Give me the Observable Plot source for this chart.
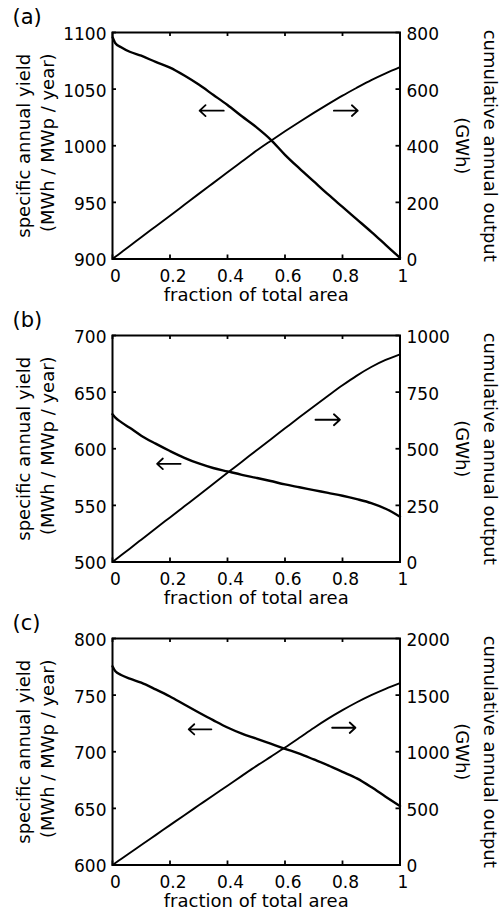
<!DOCTYPE html>
<html>
<head>
<meta charset="utf-8">
<script src="https://cdn.jsdelivr.net/npm/d3@7"></script>
<script src="https://cdn.jsdelivr.net/npm/@observablehq/plot@0.6"></script>
<style>
  html, body { margin: 0; padding: 0; background: #ffffff; }
  #chart { width: 503px; }
  #chart svg { display: block; }
</style>
</head>
<body>
<div id="chart"></div>
<script>
// ---- shared x positions (fraction of total area) ----
const fractionGrid = [0, 0.01, 0.03, 0.06, 0.1, 0.15, 0.2, 0.25, 0.3, 0.35, 0.4, 0.45, 0.5, 0.55, 0.6, 0.65, 0.7, 0.75, 0.8, 0.85, 0.9, 0.95, 1];
const xTicks = [0, 0.2, 0.4, 0.6, 0.8, 1];

// ---- panel (a) ----
const yieldA  = [1096, 1090.5, 1087, 1083, 1079.5, 1074, 1069, 1062, 1054, 1045, 1036, 1026, 1016.5, 1005.5, 992, 980, 968.5, 957, 946, 935, 924, 912.5, 901];
const outputA = [0, 7.7, 23, 46, 77, 115, 153, 191.5, 230, 268, 306, 344, 382, 417, 451, 484, 516, 547, 577, 605, 632, 656, 678];
const yTicksA = [900, 950, 1000, 1050, 1100];
const rTicksA = [0, 200, 400, 600, 800];
const arrowsA = [{x1: 0.387, x2: 0.303, y: 1031}, {x1: 0.77, x2: 0.853, y: 1031}];

// ---- panel (b) ----
const yieldB  = [630.5, 627.5, 623.5, 618.5, 611.5, 604.5, 598, 592, 587, 583, 580, 577, 574.3, 571.5, 568.5, 566, 563.5, 561, 558.5, 555.5, 552, 547, 540];
const outputB = [0, 9.8, 29.5, 59, 98.5, 148, 197, 246, 295, 344.5, 394, 443, 492, 541, 590, 639, 687, 734, 780, 823, 861, 892, 917];
const yTicksB = [500, 550, 600, 650, 700];
const rTicksB = [0, 250, 500, 750, 1000];
const arrowsB = [{x1: 0.237, x2: 0.155, y: 586.7}, {x1: 0.706, x2: 0.791, y: 625.6}];

// ---- panel (c) ----
const yieldC  = [775.5, 771, 767.8, 764.6, 761, 755.1, 748.8, 741.7, 734.7, 727.9, 721.4, 716, 711.6, 707.1, 702.6, 698.3, 693.2, 688, 682.3, 676.5, 668.8, 660.3, 652];
const outputC = [0, 17.6, 53, 106, 176, 264, 352, 440, 527, 614, 700, 787, 873, 955, 1037, 1123, 1210, 1292, 1367, 1437, 1500, 1556, 1605];
const yTicksC = [600, 650, 700, 750, 800];
const rTicksC = [0, 500, 1000, 1500, 2000];
const arrowsC = [{x1: 0.344, x2: 0.265, y: 719.8}, {x1: 0.764, x2: 0.845, y: 721.2}];

// ---- texts ----
const xLabel = "fraction of total area";
const leftLabel1 = "specific annual yield";
const leftLabel2 = "(MWh / MWp / year)";
const rightLabel1 = "cumulative annual output";
const rightLabel2 = "(GWh)";

const panels = [
  {tag: "(a)", yieldVals: yieldA, outputVals: outputA, yDomain: [900, 1100], yTicks: yTicksA, rDomain: [0, 800], rTicks: rTicksA, arrows: arrowsA},
  {tag: "(b)", yieldVals: yieldB, outputVals: outputB, yDomain: [500, 700], yTicks: yTicksB, rDomain: [0, 1000], rTicks: rTicksB, arrows: arrowsB},
  {tag: "(c)", yieldVals: yieldC, outputVals: outputC, yDomain: [600, 800], yTicks: yTicksC, rDomain: [0, 2000], rTicks: rTicksC, arrows: arrowsC}
];

const W = 503, ML = 112, MR = 103.5, MT = 32, PH = 226.5, H = 302.75;
const PW = W - ML - MR;
const FONT = "'DejaVu Sans', sans-serif";

function drawPanel(p) {
  const toLeft = d3.scaleLinear(p.rDomain, p.yDomain);
  const yieldData = fractionGrid.map((f, i) => ({f, v: p.yieldVals[i]}));
  const outData = fractionGrid.map((f, i) => ({f, v: toLeft(p.outputVals[i])}));
  const rPos = p.rTicks.map(d => toLeft(d));
  const rot = {lineAnchor: "middle", textAnchor: "middle", fontSize: 18};
  const svg = Plot.plot({
    width: W, height: H,
    marginLeft: ML, marginRight: MR, marginTop: MT, marginBottom: H - MT - PH,
    x: {domain: [0, 1]},
    y: {domain: p.yDomain},
    style: {fontFamily: FONT, fontSize: "17px", color: "black", background: "white", overflow: "visible"},
    marks: [
      Plot.line(yieldData, {x: "f", y: "v", stroke: "black", strokeWidth: 2.4, curve: "monotone-x"}),
      Plot.line(outData, {x: "f", y: "v", stroke: "black", strokeWidth: 1.9, curve: "monotone-x"}),
      Plot.arrow(p.arrows, {x1: "x1", y1: "y", x2: "x2", y2: "y", stroke: "black", strokeWidth: 1.8, headAngle: 85, headLength: 12}),
      Plot.frame({stroke: "black", strokeWidth: 2}),
      Plot.tickX(xTicks, {x: d => d, insetTop: PH - 4, stroke: "black", strokeWidth: 1.8}),
      Plot.tickX(xTicks, {x: d => d, insetBottom: PH - 4, stroke: "black", strokeWidth: 1.8}),
      Plot.tickY(p.yTicks, {y: d => d, insetRight: PW - 4, stroke: "black", strokeWidth: 1.8}),
      Plot.tickY(rPos, {y: d => d, insetLeft: PW - 4, stroke: "black", strokeWidth: 1.8}),
      Plot.axisX(xTicks, {tickSize: 0, tickPadding: 11, dx: 3, fontSize: 17, label: null, tickFormat: d => String(d)}),
      Plot.axisY(p.yTicks, {anchor: "left", tickSize: 0, tickPadding: 6, dy: 2, fontSize: 17, label: null, tickFormat: d => String(d)}),
      Plot.axisY(rPos, {anchor: "right", tickSize: 0, tickPadding: 6.5, dy: 2, fontSize: 17, label: null, tickFormat: d => String(Math.round(toLeft.invert(d)))}),
      Plot.text([xLabel], {text: d => d, frameAnchor: "bottom", lineAnchor: "middle", textAnchor: "middle", dy: 36, fontSize: 18}),
      Plot.text([leftLabel1], {...rot, text: d => d, frameAnchor: "left", rotate: -90, dx: -88.7}),
      Plot.text([leftLabel2], {...rot, text: d => d, frameAnchor: "left", rotate: -90, dx: -64.5, dy: -3}),
      Plot.text([rightLabel1], {...rot, text: d => d, frameAnchor: "right", rotate: 90, dx: 89.5}),
      Plot.text([rightLabel2], {...rot, text: d => d, frameAnchor: "right", rotate: 90, dx: 62}),
      Plot.text([p.tag], {text: d => d, frameAnchor: "top-left", lineAnchor: "middle", textAnchor: "start", dx: -100, dy: -15, fontSize: 21})
    ]
  });
  return svg;
}

const chart = document.getElementById("chart");
for (const p of panels) chart.appendChild(drawPanel(p));
</script>
</body>
</html>
